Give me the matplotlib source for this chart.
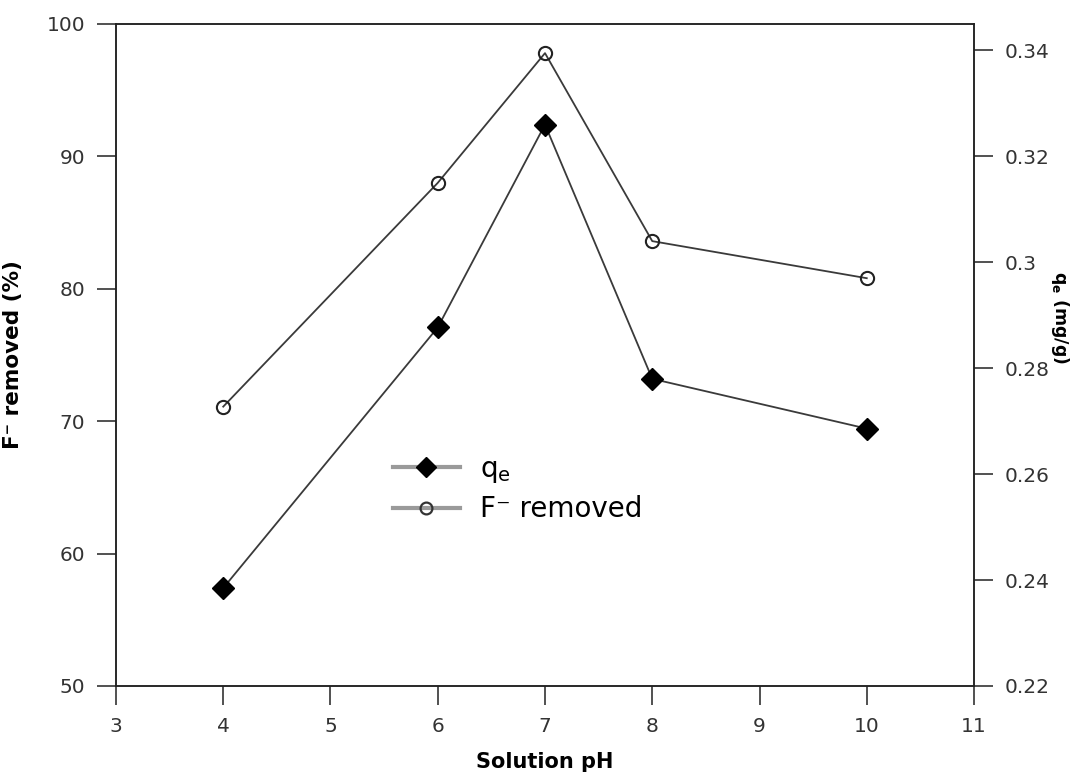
import matplotlib
matplotlib.use("Agg")
import matplotlib.pyplot as plt
from matplotlib.lines import Line2D
from matplotlib.ticker import FuncFormatter

plt.rcParams.update({
    "font.family": "DejaVu Sans",
    "axes.edgecolor": "#222222",
    "axes.linewidth": 1.1,
    "xtick.color": "#222222",
    "ytick.color": "#222222",
    "xtick.labelcolor": "#333333",
    "ytick.labelcolor": "#333333",
})

ph = [4, 6, 7, 8, 10]
f_removed = [71.1, 88.0, 97.8, 83.6, 80.8]      # %
qe = [0.2385, 0.2877, 0.326, 0.278, 0.2686]      # mg/g

x_ticks = [3, 4, 5, 6, 7, 8, 9, 10, 11]
left_ticks = [50, 60, 70, 80, 90, 100]
right_ticks = [0.22, 0.24, 0.26, 0.28, 0.30, 0.32, 0.34]

LINE = "#3a3a3a"
LEGEND_LINE = "#9a9a9a"

fig = plt.figure(figsize=(10.85, 7.74), dpi=100)
ax = fig.add_axes([0.1069, 0.1137, 0.7908, 0.8553])
ax2 = ax.twinx()

ax.plot(ph, f_removed, color=LINE, lw=1.3, marker="o", ms=9.5, mfc="none",
        mec="#222222", mew=1.5, zorder=3)
ax2.plot(ph, qe, color=LINE, lw=1.3, marker="D", ms=11, mfc="black",
         mec="black", zorder=3)

ax.set_xlim(3, 11)
ax.set_ylim(50, 100)
ax2.set_ylim(0.22, 0.345)
ax.set_xticks(x_ticks)
ax.set_yticks(left_ticks)
ax2.set_yticks(right_ticks)
ax2.yaxis.set_major_formatter(FuncFormatter(lambda v, _: f"{v:g}"))

for a in (ax, ax2):
    a.tick_params(direction="out", length=14, width=1.1, pad=8, labelsize=14.5)
ax.tick_params(axis="y", right=False)
ax.tick_params(axis="x", top=False)

ax.set_xlabel("Solution pH", fontsize=15, fontweight="bold", labelpad=12)
ax.set_ylabel("F⁻ removed (%)", fontsize=15.5, fontweight="bold")
ax.yaxis.set_label_coords(-0.108, 0.5)
ax2.set_ylabel(r"q$_\mathbf{e}$ (mg/g)", fontsize=12.5, fontweight="bold",
               rotation=270, va="center")
ax2.yaxis.set_label_coords(1.1, 0.556)

handles = [
    Line2D([], [], color=LEGEND_LINE, lw=3, marker="D", ms=10, mfc="black", mec="black"),
    Line2D([], [], color=LEGEND_LINE, lw=3, marker="o", ms=8.5, mfc="none",
           mec="#333333", mew=1.6),
]
fig.legend(handles, [r"q$_\mathregular{e}$", "F⁻ removed"], loc="center left",
           bbox_to_anchor=(393 / 1085, 1 - 489 / 774), frameon=False, fontsize=20,
           borderpad=0, borderaxespad=0, handlelength=2.4, handletextpad=0.75,
           labelspacing=0.38)

fig.savefig("out.png", dpi=100)
